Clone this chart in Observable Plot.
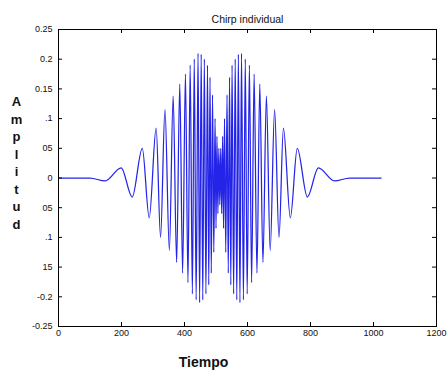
<!DOCTYPE html>
<html>
<head>
<meta charset="utf-8">
<script src="https://cdn.jsdelivr.net/npm/d3@7"></script>
<script src="https://cdn.jsdelivr.net/npm/@observablehq/plot@0.6"></script>
<style>
  html, body { margin: 0; padding: 0; background: #fff; }
</style>
</head>
<body>
<div id="chart"></div>
<script>
// Extrema of the chirp (sample index, amplitude)
const tiempo = [0,100,148,199,234,266,288,310,324,338,352,364,375,385,394,403,411,418,425,431,437,443,448,453,458,463,468,473,477,481,485,489,493,497,500,503,506,509,512,
  515,518,521,524,527,531,535,539,543,547,551,556,561,566,571,576,581,587,593,599,606,613,621,630,639,649,660,672,686,700,714,736,758,790,825,876,924,1024];
const amplitud = [0,0,-0.005,0.017,-0.032,0.05,-0.067,0.084,-0.1,0.115,-0.122,0.138,-0.142,0.158,-0.16,0.175,-0.176,0.19,-0.195,0.2,-0.205,0.21,-0.21,0.208,-0.205,0.2,-0.195,0.19,-0.18,0.17,-0.16,0.14,-0.125,0.1,-0.085,0.07,-0.06,0.05,-0.045,
  0.05,-0.06,0.07,-0.085,0.1,-0.125,0.14,-0.16,0.17,-0.18,0.19,-0.195,0.2,-0.205,0.208,-0.21,0.21,-0.205,0.2,-0.195,0.19,-0.176,0.175,-0.16,0.158,-0.142,0.138,-0.122,0.115,-0.1,0.084,-0.067,0.05,-0.032,0.017,-0.005,0,0];

const xTicks = [0,200,400,600,800,1000,1200];
const xTickLabels = ["0","200","400","600","800","1000","1200"];
const yTicks = [-0.25,-0.2,-0.15,-0.1,-0.05,0,0.05,0.1,0.15,0.2,0.25];
const yTickLabels = ["-0.25","-0.2","15",".1","05","0","05",".1","0.15","0.2","0.25"];

const titulo = "Chirp individual";
const etiquetaX = "Tiempo";
const etiquetaY = "Amplitud";

const data = tiempo.map((t, i) => ({t, a: amplitud[i]}));
const yLabelMap = new Map(yTicks.map((v, i) => [v, yTickLabels[i]]));
const xLabelMap = new Map(xTicks.map((v, i) => [v, xTickLabels[i]]));

const W = 447, H = 374;
const mL = 58, mR = 11, mT = 29, mB = 48;
const fw = W - mL - mR, fh = H - mT - mB;
const tk = 4;

const chart = Plot.plot({
  width: W,
  height: H,
  marginLeft: mL,
  marginRight: mR,
  marginTop: mT,
  marginBottom: mB,
  style: {fontFamily: "'Liberation Sans', Arial, sans-serif", fontSize: "9px", color: "#111", background: "#fff"},
  x: {domain: [0, 1200]},
  y: {domain: [-0.25, 0.25]},
  marks: [
    Plot.line(data, {x: "t", y: "a", curve: "monotone-x", stroke: "#2424e8", strokeWidth: 1.25}),
    Plot.frame({stroke: "#000", strokeWidth: 1}),
    Plot.tickX(xTicks, {x: d => d, insetTop: fh - tk, stroke: "#000"}),
    Plot.tickX(xTicks, {x: d => d, insetBottom: fh - tk, stroke: "#000"}),
    Plot.tickY(yTicks, {y: d => d, insetRight: fw - tk, stroke: "#000"}),
    Plot.tickY(yTicks, {y: d => d, insetLeft: fw - tk, stroke: "#000"}),
    Plot.axisX(xTicks, {tickSize: 0, tickPadding: 3, label: null, fontSize: 9, tickFormat: d => xLabelMap.get(d)}),
    Plot.axisY(yTicks, {tickSize: 0, tickPadding: 6, label: null, fontSize: 9, tickFormat: d => yLabelMap.get(d)}),
    Plot.text([titulo], {frameAnchor: "top", dy: -14, fontSize: 10.5}),
    Plot.text([etiquetaX], {frameAnchor: "bottom", dx: -44, dy: 40, fontSize: 14, fontWeight: "bold"}),
    Plot.text([etiquetaY.split("").join("\n")], {frameAnchor: "left", dx: -42, dy: -16, fontSize: 13, fontWeight: "bold", lineHeight: 1.35, textAnchor: "middle"})
  ]
});
document.getElementById("chart").appendChild(chart);
</script>
</body>
</html>
